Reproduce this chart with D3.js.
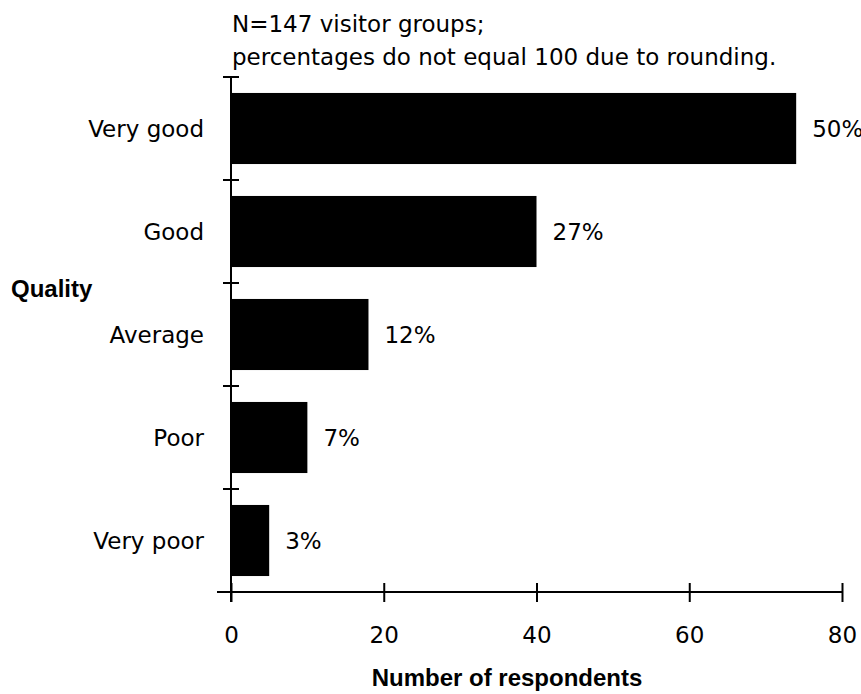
<!DOCTYPE html>
<meta charset="utf-8">
<script src="https://d3js.org/d3.v7.min.js"></script>
<style>
  body { margin: 0; background: #fff; }
  text { font-family: "DejaVu Sans", sans-serif; fill: #000; }
  .bold { font-family: "Liberation Sans", Arial, sans-serif; font-weight: bold; }
</style>
<body>
<div id="canvas"></div>
<script>
  // dados
  var categories = ["Very good", "Good", "Average", "Poor", "Very poor"];
  var counts = [74, 40, 18, 10, 5];
  var percents = ["50%", "27%", "12%", "7%", "3%"];
  var xTicks = [0, 20, 40, 60, 80];
  var noteLines = ["N=147 visitor groups;", "percentages do not equal 100 due to rounding."];

  var width = 861;
  var height = 694;
  var fs = "23px";

  var svg = d3.select('#canvas')
    .append("svg")
    .attr("width", width)
    .attr("height", height);

  var x = d3.scaleLinear()
    .domain([0, 80])
    .range([231, 842]);

  var y = d3.scaleBand()
    .domain(categories)
    .range([77, 592])
    .paddingInner(0.31)
    .paddingOuter(0.155);

  var axisY = 592;

  // eixo X
  var gx = svg.append("g")
    .attr("transform", "translate(0," + axisY + ")")
    .call(d3.axisBottom(x).tickValues(xTicks).tickSize(10).tickSizeOuter(0).tickPadding(25));
  gx.select(".domain").remove();
  gx.selectAll(".tick line")
    .attr("y1", -9)
    .attr("y2", 10)
    .attr("stroke", "#000")
    .attr("stroke-width", 2);
  gx.selectAll(".tick text")
    .style("font-family", '"DejaVu Sans", sans-serif')
    .style("font-size", fs);
  gx.append("line")
    .attr("x1", 217).attr("x2", x(80))
    .attr("y1", 0).attr("y2", 0)
    .attr("stroke", "#000")
    .attr("stroke-width", 2);

  // eixo Y (linha + marcas nas divisas das categorias)
  var boundaries = d3.range(categories.length).map(function(i) { return y.range()[0] + i * y.step(); });
  svg.append("line")
    .attr("x1", x(0)).attr("x2", x(0))
    .attr("y1", y.range()[0]).attr("y2", axisY + 10)
    .attr("stroke", "#000")
    .attr("stroke-width", 2);
  svg.selectAll(".ytick")
    .data(boundaries)
    .enter()
    .append("line")
    .attr("class", "ytick")
    .attr("x1", x(0) - 8).attr("x2", x(0) + 8)
    .attr("y1", function(d) { return d; })
    .attr("y2", function(d) { return d; })
    .attr("stroke", "#000")
    .attr("stroke-width", 2);

  // barras
  svg.selectAll(".bar")
    .data(counts)
    .enter()
    .append("rect")
    .attr("class", "bar")
    .attr("x", x(0))
    .attr("y", function(d, i) { return y(categories[i]); })
    .attr("width", function(d) { return x(d) - x(0); })
    .attr("height", y.bandwidth())
    .attr("fill", "#000");

  // percentuais
  svg.selectAll(".pct")
    .data(counts)
    .enter()
    .append("text")
    .attr("class", "pct")
    .attr("x", function(d) { return x(d) + 16; })
    .attr("y", function(d, i) { return y(categories[i]) + y.bandwidth() / 2; })
    .attr("dy", "0.35em")
    .style("font-size", fs)
    .text(function(d, i) { return percents[i]; });

  // nomes das categorias
  svg.selectAll(".cat")
    .data(categories)
    .enter()
    .append("text")
    .attr("class", "cat")
    .attr("x", 204)
    .attr("y", function(d) { return y(d) + y.bandwidth() / 2; })
    .attr("dy", "0.35em")
    .attr("text-anchor", "end")
    .style("font-size", fs)
    .text(function(d) { return d; });

  // nota
  svg.selectAll(".note")
    .data(noteLines)
    .enter()
    .append("text")
    .attr("class", "note")
    .attr("x", 232)
    .attr("y", function(d, i) { return 32 + i * 33; })
    .style("font-size", fs)
    .text(function(d) { return d; });

  // titulos dos eixos
  svg.append("text")
    .attr("class", "bold")
    .attr("x", 11)
    .attr("y", 297)
    .style("font-size", "24px")
    .text("Quality");

  svg.append("text")
    .attr("class", "bold")
    .attr("x", 507)
    .attr("y", 686)
    .attr("text-anchor", "middle")
    .style("font-size", "24px")
    .text("Number of respondents");
</script>
</body>
